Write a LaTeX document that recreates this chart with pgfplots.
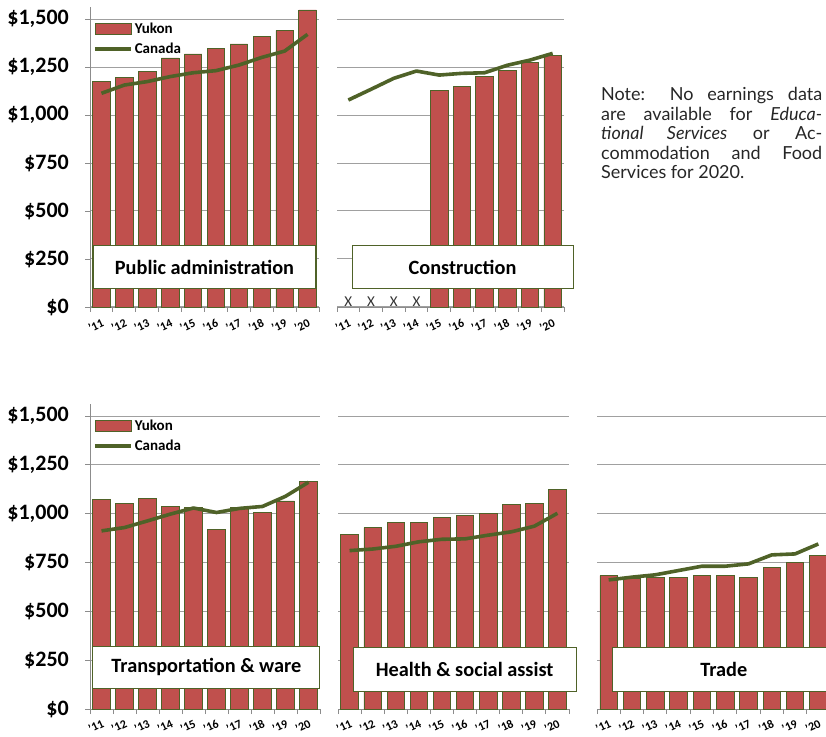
\documentclass[border=0pt]{standalone}
\usepackage{pgfplots}
\usepackage{pgfplotstable}
\pgfplotsset{compat=1.18}
\usepackage{fontspec}
\setmainfont{Carlito}
\newfontfamily\notefont{Lato}
\definecolor{barred}{HTML}{C0504D}
\definecolor{olivegreen}{HTML}{4F6228}
\definecolor{gridgray}{HTML}{A0A0A0}
\definecolor{axisgray}{HTML}{8C8C8C}
\definecolor{notegray}{HTML}{262626}

\pgfplotstableread{
x yukon canada
1 1174 1113
2 1196 1156
3 1226 1174
4 1297 1200
5 1318 1220
6 1347 1231
7 1370 1260
8 1411 1300
9 1441 1333
10 1547 1420
}\pubadmin
\pgfplotstableread{
x yukon canada
1 nan 1078
2 nan 1134
3 nan 1191
4 nan 1229
5 1130 1208
6 1151 1217
7 1203 1220
8 1231 1259
9 1274 1286
10 1309 1321
}\construction
\pgfplotstableread{
x yukon canada
1 1071 912
2 1051 929
3 1080 963
4 1035 998
5 1034 1029
6 921 1006
7 1032 1027
8 1006 1037
9 1065 1089
10 1167 1161
}\transport
\pgfplotstableread{
x yukon canada
1 894 811
2 928 819
3 957 833
4 957 856
5 979 869
6 993 871
7 1000 890
8 1045 907
9 1052 936
10 1125 1002
}\health
\pgfplotstableread{
x yukon canada
1 683 661
2 671 675
3 675 687
4 675 709
5 683 731
6 683 731
7 675 743
8 726 789
9 750 794
10 786 845
}\trade

\tikzset{
  labelbox/.style={draw=olivegreen, line width=0.9pt, fill=white, inner sep=0pt,
    font=\bfseries\fontsize{20.3}{20.3}\selectfont},
  xmark/.style={anchor=south, inner sep=0pt, font=\fontsize{15}{15}\selectfont, text=black!80},
}
\pgfplotsset{
  panel/.style={
    scale only axis,
    xmin=0.5, xmax=10.5, ymin=0, ymax=1560,
    axis lines*=left,
    axis line style={draw=axisgray, line width=0.9pt},
    xtick={1,...,10},
    xticklabels={’11,’12,’13,’14,’15,’16,’17,’18,’19,’20},
    minor xtick={0.5,1.5,...,10.5},
    major tick length=0pt,
    minor tick length=5pt,
    tick align=outside,
    minor tick style={draw=axisgray, line width=0.9pt},
    ytick={0,250,...,1500},
    ymajorgrids,
    grid style={draw=gridgray, line width=1pt},
    unbounded coords=discard,
    clip=false,
  },
  toprow/.style={
    xticklabel style={font=\bfseries\fontsize{12}{12}\selectfont, anchor=center, xshift=-5.5pt, yshift=-18.5pt, rotate=25},
  },
  lowrow/.style={
    xticklabel style={font=\bfseries\fontsize{12}{12}\selectfont, anchor=center, xshift=-5.5pt, yshift=-17pt, rotate=25},
  },
  leftpanel/.style={
    minor ytick={0,250,...,1500},
    yticklabels={\$0,\$250,\$500,\$750,{\$1,000},{\$1,250},{\$1,500}},
    yticklabel style={font=\bfseries\fontsize{22}{22}\selectfont, anchor=east, inner sep=0pt, xshift=-21pt},
    legend style={at={(axis description cs:0.013,0.955)}, anchor=north west, draw=none, fill=none,
      inner sep=0pt, row sep=4pt, font=\bfseries\fontsize{15}{15}\selectfont,
      cells={anchor=west}, nodes={inner sep=2pt}},
  },
  otherpanel/.style={
    y axis line style={draw=none},
    yticklabels={},
  },
  yukonbar/.style={ybar, bar width=17.5pt, fill=barred, draw=olivegreen, line width=0.8pt,
    legend image code/.code={\draw[fill=barred, draw=olivegreen, line width=0.8pt] (0pt,-5.5pt) rectangle (36pt,5.5pt);}},
  canadaline/.style={sharp plot, no markers, draw=olivegreen, line width=3.6pt, line join=round,
    legend image code/.code={\draw[olivegreen, line width=3.6pt] (0pt,0pt) -- (36pt,0pt);}},
}

\begin{document}
\begin{tikzpicture}
\useasboundingbox (0pt,0pt) rectangle (826pt,736pt);

% Public administration
\begin{axis}[panel, toprow, leftpanel, at={(90pt,429pt)}, anchor=south west, width=229pt, height=299.5pt]
\addplot[yukonbar] table[x=x, y=yukon] {\pubadmin};
\addlegendentry{Yukon}
\addplot[canadaline] table[x=x, y=canada] {\pubadmin};
\addlegendentry{Canada}
\node[labelbox, minimum width=222pt, minimum height=43pt] at (axis cs:5.5,206) {Public administration};
\end{axis}

% Construction
\begin{axis}[panel, toprow, otherpanel, at={(337pt,429pt)}, anchor=south west, width=227pt, height=299.5pt]
\addplot[yukonbar] table[x=x, y=yukon] {\construction};
\addplot[canadaline] table[x=x, y=canada] {\construction};
\node[labelbox, minimum width=221pt, minimum height=43pt] at (axis cs:6.03,206) {Construction};
\node[xmark] at (axis cs:1,1) {X};
\node[xmark] at (axis cs:2,1) {X};
\node[xmark] at (axis cs:3,1) {X};
\node[xmark] at (axis cs:4,1) {X};
\end{axis}

% Transportation
\begin{axis}[panel, lowrow, leftpanel, at={(90pt,27pt)}, anchor=south west, width=230pt, height=304.7pt]
\addplot[yukonbar] table[x=x, y=yukon] {\transport};
\addlegendentry{Yukon}
\addplot[canadaline] table[x=x, y=canada] {\transport};
\addlegendentry{Canada}
\node[labelbox, minimum width=227pt, minimum height=42pt] at (axis cs:5.56,215) {Transportation \& ware};
\end{axis}

% Health
\begin{axis}[panel, lowrow, otherpanel, at={(338pt,27pt)}, anchor=south west, width=231pt, height=304.7pt]
\addplot[yukonbar] table[x=x, y=yukon] {\health};
\addplot[canadaline] table[x=x, y=canada] {\health};
\node[labelbox, minimum width=223pt, minimum height=44pt] at (axis cs:5.98,200) {Health \& social assist};
\end{axis}

% Trade
\begin{axis}[panel, lowrow, otherpanel, at={(597pt,27pt)}, anchor=south west, width=233pt, height=304.7pt]
\addplot[yukonbar] table[x=x, y=yukon] {\trade};
\addplot[canadaline] table[x=x, y=canada] {\trade};
\node[labelbox, minimum width=223pt, minimum height=44pt, anchor=west] at (axis cs:1.14,200) {Trade};
\end{axis}

% Note
\node[anchor=base west, inner sep=0pt, text=notegray] at (601pt,635.3pt) {\parbox[t]{221pt}{\notefont\fontsize{18}{19.5}\selectfont\setlength{\parindent}{0pt}%
\makebox[221pt][s]{Note: No earnings data}\par
\makebox[221pt][s]{are available for \textit{Educa-}}\par
\makebox[221pt][s]{\textit{tional Services} or Ac-}\par
\makebox[221pt][s]{commodation and Food}\par
Services for 2020.}};
\end{tikzpicture}
\end{document}
